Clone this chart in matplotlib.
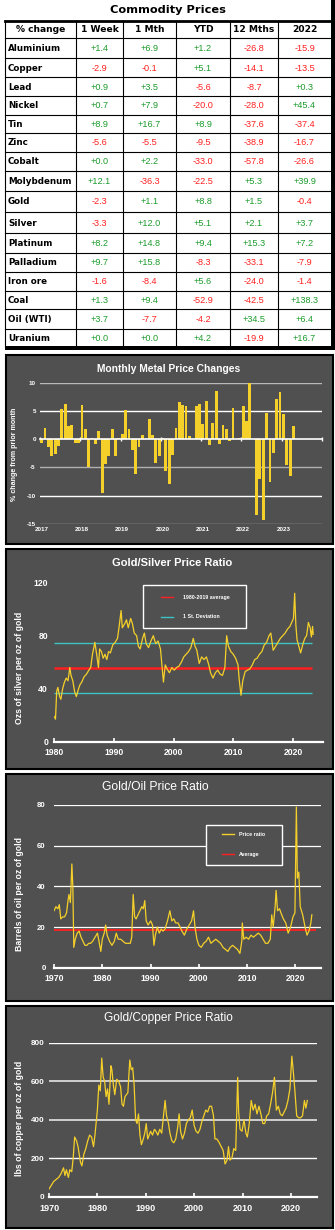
import numpy as np
import matplotlib.pyplot as plt
from matplotlib.patches import Rectangle

plt.rcParams['font.family'] = ['Liberation Sans', 'DejaVu Sans']

W, H = 335, 1230

# ---- commodity table ----
metals = ["Aluminium", "Copper", "Lead", "Nickel", "Tin", "Zinc", "Cobalt",
          "Molybdenum", "Gold", "Silver", "Platinum", "Palladium", "Iron ore",
          "Coal", "Oil (WTI)", "Uranium"]
headers = ["% change", "1 Week", "1 Mth", "YTD", "12 Mths", "2022"]
chg_week = [1.4, -2.9, 0.9, 0.7, 8.9, -5.6, 0.0, 12.1, -2.3, -3.3, 8.2, 9.7, -1.6, 1.3, 3.7, 0.0]
chg_month = [6.9, -0.1, 3.5, 7.9, 16.7, -5.5, 2.2, -36.3, 1.1, 12.0, 14.8, 15.8, -8.4, 9.4, -7.7, 0.0]
chg_ytd = [1.2, 5.1, -5.6, -20.0, 8.9, -9.5, -33.0, -22.5, 8.8, 5.1, 9.4, -8.3, 5.6, -52.9, -4.2, 4.2]
chg_12m = [-26.8, -14.1, -8.7, -28.0, -37.6, -38.9, -57.8, 5.3, 1.5, 2.1, 15.3, -33.1, -24.0, -42.5, 34.5, -19.9]
chg_2022 = [-15.9, -13.5, 0.3, 45.4, -37.4, -16.7, -26.6, 39.9, -0.4, 3.7, 7.2, -7.9, -1.4, 138.3, 6.4, 16.7]

# ---- monthly metal price changes, Jan 2017 onwards (%) ----
month_start = 2017
monthly_chg = [-0.6, 2.0, -1.4, -3.0, -2.6, -1.2, 5.3, 6.2, 2.3, 2.6, -0.7, -0.7,
               6.1, 1.8, -5.0, 0.3, -0.8, 1.5, -9.6, -4.3, -3.0, 1.8, -3.0, 0.2,
               1.0, 5.1, 1.8, -1.9, -6.2, -1.3, 0.7, 0.1, 3.5, 0.8, -4.2, -3.0,
               0.2, -5.7, -8.0, -2.8, 2.0, 6.5, 6.1, 5.8, 0.6, 0.0, 5.8, 6.3,
               2.7, 6.7, -1.1, 2.9, 8.6, -0.9, 2.5, 1.8, -0.3, 5.6, 0.1, 0.2,
               5.9, 3.3, 10.0, 0.1, -13.4, -7.0, -14.3, 4.7, -7.6, -2.4, 7.1, 8.4,
               4.5, -4.5, -6.5, 2.4]

# ---- gold/silver ratio ----
silver_yr = [1980.0, 1980.2, 1980.4, 1980.6, 1980.9, 1981.1, 1981.4, 1981.7, 1982.0, 1982.3,
             1982.6, 1982.8, 1983.1, 1983.4, 1983.7, 1984.0, 1984.3, 1984.6, 1985.0, 1985.4,
             1985.8, 1986.1, 1986.4, 1986.8, 1987.1, 1987.4, 1987.6, 1987.9, 1988.2, 1988.5,
             1988.8, 1989.1, 1989.4, 1989.8, 1990.2, 1990.6, 1990.9, 1991.2, 1991.4, 1991.8,
             1992.1, 1992.4, 1992.8, 1993.1, 1993.4, 1993.8, 1994.1, 1994.4, 1994.8, 1995.1,
             1995.4, 1995.8, 1996.2, 1996.6, 1997.0, 1997.4, 1997.8, 1998.0, 1998.3, 1998.6,
             1998.9, 1999.3, 1999.7, 2000.1, 2000.5, 2000.9, 2001.3, 2001.7, 2002.1, 2002.5,
             2002.9, 2003.3, 2003.6, 2003.9, 2004.3, 2004.7, 2005.1, 2005.5, 2005.9, 2006.2,
             2006.6, 2007.0, 2007.4, 2007.8, 2008.2, 2008.6, 2008.9, 2009.2, 2009.6, 2010.0,
             2010.4, 2010.8, 2011.0, 2011.3, 2011.6, 2012.0, 2012.4, 2012.8, 2013.2, 2013.6,
             2014.0, 2014.4, 2014.8, 2015.2, 2015.6, 2016.0, 2016.3, 2016.7, 2017.1, 2017.5,
             2017.9, 2018.3, 2018.7, 2019.1, 2019.5, 2019.8, 2020.1, 2020.3, 2020.5, 2020.7,
             2021.0, 2021.3, 2021.7, 2022.0, 2022.3, 2022.6, 2022.9, 2023.1, 2023.3, 2023.4]
silver_ratio = [19, 17, 38, 41, 34, 32, 40, 45, 48, 46,
                56, 50, 46, 38, 34, 39, 43, 45, 49, 51,
                54, 56, 66, 75, 66, 56, 70, 68, 63, 66,
                62, 68, 67, 73, 75, 78, 88, 99, 86, 89,
                92, 86, 93, 89, 82, 80, 72, 70, 78, 82,
                74, 71, 76, 80, 74, 76, 70, 60, 45, 58,
                55, 52, 56, 54, 56, 57, 60, 64, 66, 68,
                71, 78, 72, 69, 59, 64, 62, 64, 58, 52,
                48, 52, 54, 51, 50, 56, 80, 72, 68, 66,
                63, 58, 47, 35, 46, 53, 54, 55, 58, 62,
                63, 66, 68, 73, 75, 80, 82, 69, 72, 75,
                78, 80, 82, 85, 87, 90, 93, 112, 88, 77,
                72, 67, 74, 78, 80, 90, 86, 79, 87, 81]
silver_avg = 55.8
silver_sd = 18.8

# ---- gold/oil ratio ----
oil_yr = [1970.0, 1970.4, 1970.8, 1971.1, 1971.4, 1971.8, 1972.2, 1972.6, 1972.9, 1973.1,
          1973.4, 1973.7, 1973.9, 1974.1, 1974.4, 1974.8, 1975.2, 1975.6, 1976.0, 1976.4,
          1976.8, 1977.2, 1977.6, 1978.0, 1978.5, 1979.0, 1979.4, 1979.7, 1980.0, 1980.4,
          1980.7, 1981.0, 1981.5, 1982.0, 1982.5, 1982.9, 1983.3, 1983.8, 1984.3, 1984.8,
          1985.3, 1985.8, 1986.1, 1986.4, 1986.7, 1987.0, 1987.4, 1987.8, 1988.2, 1988.5,
          1988.8, 1989.1, 1989.5, 1990.0, 1990.4, 1990.7, 1991.0, 1991.4, 1991.8, 1992.2,
          1992.6, 1993.0, 1993.5, 1994.0, 1994.4, 1994.8, 1995.2, 1995.7, 1996.1, 1996.5,
          1997.0, 1997.5, 1998.0, 1998.5, 1998.9, 1999.2, 1999.6, 2000.0, 2000.5, 2001.0,
          2001.5, 2002.0, 2002.5, 2003.0, 2003.5, 2004.0, 2004.5, 2005.0, 2005.5, 2006.0,
          2006.5, 2007.0, 2007.5, 2008.0, 2008.5, 2008.9, 2009.0, 2009.3, 2009.8, 2010.3,
          2010.8, 2011.3, 2011.8, 2012.3, 2012.8, 2013.3, 2013.8, 2014.3, 2014.8, 2015.1,
          2015.4, 2015.8, 2016.0, 2016.3, 2016.7, 2017.0, 2017.5, 2018.0, 2018.5, 2019.0,
          2019.5, 2019.9, 2020.2, 2020.4, 2020.7, 2021.0, 2021.5, 2022.0, 2022.4, 2022.8,
          2023.2, 2023.4]
oil_ratio = [28, 30, 29, 31, 24, 25, 25, 27, 33, 36,
             32, 51, 40, 10, 14, 17, 18, 15, 13, 11,
             11, 12, 12, 13, 15, 17, 12, 8, 14, 17,
             21, 16, 13, 11, 13, 17, 14, 14, 13, 12,
             12, 12, 15, 36, 25, 24, 26, 28, 30, 29,
             33, 23, 21, 23, 21, 11, 16, 20, 17, 19,
             18, 19, 23, 28, 23, 24, 22, 22, 20, 18,
             16, 19, 21, 23, 28, 20, 14, 11, 10, 12,
             13, 15, 12, 13, 14, 13, 12, 10, 9, 8,
             10, 11, 10, 9, 7, 13, 22, 14, 15, 14,
             16, 15, 16, 17, 16, 14, 12, 12, 14, 26,
             20, 30, 38, 28, 29, 27, 24, 22, 17, 20,
             25, 27, 79, 44, 47, 30, 26, 20, 16, 18,
             22, 26]
oil_avg = 18.6

# ---- gold/copper ratio ----
copper_yr = [1970.0, 1970.5, 1971.0, 1971.5, 1972.0, 1972.5, 1973.0, 1973.3, 1973.6, 1974.0,
             1974.3, 1974.7, 1975.0, 1975.3, 1975.7, 1976.0, 1976.5, 1976.8, 1977.2, 1977.6,
             1978.0, 1978.4, 1978.8, 1979.2, 1979.5, 1980.0, 1980.3, 1980.6, 1980.9, 1981.2,
             1981.5, 1981.8, 1982.1, 1982.4, 1982.8, 1983.0, 1983.3, 1983.6, 1984.0, 1984.4,
             1984.8, 1985.1, 1985.4, 1985.7, 1986.0, 1986.3, 1986.7, 1987.0, 1987.3, 1987.6,
             1987.9, 1988.2, 1988.5, 1988.8, 1989.1, 1989.5, 1989.8, 1990.1, 1990.4, 1990.7,
             1991.0, 1991.4, 1991.8, 1992.1, 1992.5, 1992.9, 1993.3, 1993.7, 1994.0, 1994.3,
             1994.7, 1995.0, 1995.4, 1995.8, 1996.2, 1996.6, 1996.9, 1997.2, 1997.6, 1998.0,
             1998.4, 1998.8, 1999.2, 1999.6, 2000.0, 2000.4, 2000.8, 2001.2, 2001.6, 2002.0,
             2002.4, 2002.8, 2003.2, 2003.6, 2004.0, 2004.3, 2004.7, 2005.2, 2005.6, 2006.0,
             2006.4, 2006.8, 2007.1, 2007.4, 2007.8, 2008.2, 2008.6, 2009.0, 2009.2, 2009.5,
             2009.9, 2010.3, 2010.7, 2011.0, 2011.4, 2011.8, 2012.2, 2012.6, 2013.0, 2013.4,
             2013.8, 2014.2, 2014.6, 2015.0, 2015.4, 2015.8, 2016.2, 2016.6, 2017.0, 2017.4,
             2017.8, 2018.2, 2018.6, 2019.0, 2019.4, 2019.8, 2020.2, 2020.5, 2020.8, 2021.2,
             2021.6, 2022.0, 2022.4, 2022.8, 2023.1, 2023.4]
copper_ratio = [40, 60, 80, 90, 100, 120, 150, 110, 140, 100,
                140, 130, 200, 310, 290, 260, 180, 160, 220, 250,
                290, 320, 310, 260, 320, 450, 580, 550, 720, 620,
                600, 520, 560, 480, 680, 660, 580, 530, 610, 600,
                570, 480, 470, 520, 530, 540, 710, 660, 670, 580,
                400, 380, 430, 320, 270, 300, 330, 380, 300, 320,
                340, 320, 350, 340, 320, 350, 330, 430, 500, 420,
                380, 330, 290, 280, 300, 360, 430, 340, 300, 330,
                380, 400, 410, 450, 370, 340, 330, 350, 390, 420,
                450, 440, 470, 470, 420, 300, 300, 280, 260, 240,
                170, 190, 260, 190, 200, 250, 240, 620, 440, 350,
                340, 400, 330, 310, 380, 500, 450, 480, 430, 470,
                430, 380, 380, 420, 430, 480, 540, 620, 450, 470,
                430, 420, 440, 460, 500, 560, 730, 650, 560, 420,
                410, 410, 420, 500, 460, 500]

PANEL = '#505050'
GOLD = '#f5d02a'
GREEN = '#1c9c2c'
RED = '#ff2020'
CYAN = '#3cc4c4'


def px_rect(x0, y0, x1, y1):
    return [x0 / W, 1 - y1 / H, (x1 - x0) / W, (y1 - y0) / H]


fig = plt.figure(figsize=(W / 100, H / 100), dpi=100)
bg = fig.add_axes([0, 0, 1, 1])
bg.set_xlim(0, W)
bg.set_ylim(H, 0)
bg.axis('off')

# table
tfont = dict(family='DejaVu Sans', fontweight='bold', color='black')
bg.text(168, 10, "Commodity Prices", ha='center', va='center', fontsize=8.2, **tfont)
col_edges = [5, 76, 123, 176, 230, 278, 331]
row_edges = [20.7, 38.3, 58.3, 77.3, 96, 115, 132.7, 151.7, 170.7, 190.7, 211.7,
             233.3, 253.3, 271.5, 290.7, 309.3, 328.7, 347]
bg.plot([5, 333], [row_edges[0], row_edges[0]], color='black', lw=2)
for y in row_edges[1:-1]:
    bg.plot([5, 331], [y, y], color='black', lw=0.8)
for x in col_edges[:-1]:
    bg.plot([x, x], [row_edges[0], 347], color='black', lw=0.8)
bg.add_patch(Rectangle((331, 0), 4, 350, color='black', lw=0))
bg.add_patch(Rectangle((5, 346), 330, 4, color='black', lw=0))

for j, h in enumerate(headers):
    cx = (col_edges[j] + col_edges[j + 1]) / 2
    bg.text(cx, (row_edges[0] + row_edges[1]) / 2 + 0.5, h, ha='center', va='center',
            fontsize=6.6, **tfont)
columns = [chg_week, chg_month, chg_ytd, chg_12m, chg_2022]
for i, name in enumerate(metals):
    cy = (row_edges[i + 1] + row_edges[i + 2]) / 2 + 0.5
    bg.text(8, cy, name, ha='left', va='center', fontsize=6.3, **tfont)
    for j, col in enumerate(columns):
        v = col[i]
        cx = (col_edges[j + 1] + col_edges[j + 2]) / 2
        bg.text(cx, cy, f"{v:+.1f}", ha='center', va='center', fontsize=6.6,
                color=GREEN if v >= 0 else RED)

# chart panels
for (y0, y1) in [(355, 544), (549, 769), (774, 1001), (1006, 1228)]:
    bg.add_patch(Rectangle((5.5, y0), 327.5, y1 - y0, facecolor=PANEL,
                           edgecolor='black', lw=1.5))

tick_font = dict(color='white', fontweight='bold')

# monthly bars
ax1 = fig.add_axes(px_rect(40, 382.7, 322, 524))
ax1.set_facecolor('none')
n_slots = 84
ax1.set_xlim(-0.5, n_slots - 0.5)
ax1.set_ylim(-15, 10)
for v, c in [(10, '#b8b8b8'), (5, 'white'), (-5, '#b0b0b0'), (-10, 'white'), (-15, '#b0b0b0')]:
    ax1.axhline(v, color=c, lw=1, zorder=1)
ax1.bar(np.arange(len(monthly_chg)), monthly_chg, width=0.85, color=GOLD, zorder=2)
for s in ['left', 'right', 'top']:
    ax1.spines[s].set_visible(False)
ax1.spines['bottom'].set_position(('data', 0))
ax1.spines['bottom'].set_color('white')
ax1.spines['bottom'].set_linewidth(1.2)
ax1.spines['bottom'].set_zorder(3)
ax1.set_xticks(np.arange(-0.5, n_slots, 12))
ax1.set_xticklabels([])
ax1.tick_params(axis='x', direction='inout', length=3, color='white', width=1)
ax1.set_yticks([-15, -10, -5, 0, 5, 10])
ax1.set_yticklabels(['-15', '-10', '-5', '0', '5', '10'], fontsize=4.5, **tick_font)
ax1.tick_params(axis='y', length=0, pad=3)
for k in range(7):
    ax1.annotate(str(month_start + k), (12 * k, 0), xycoords=('data', 'axes fraction'),
                 xytext=(0, -2), textcoords='offset points', ha='center', va='top',
                 fontsize=4.5, **tick_font)


def line_axes(rect, xlim, ylim, yticks, ypad, xpad, ysize, xsize):
    ax = fig.add_axes(rect)
    ax.set_facecolor('none')
    ax.set_xlim(*xlim)
    ax.set_ylim(*ylim)
    for s in ['left', 'right', 'top']:
        ax.spines[s].set_visible(False)
    ax.spines['bottom'].set_color('white')
    ax.spines['bottom'].set_linewidth(1.6)
    ax.spines['bottom'].set_zorder(4)
    ax.set_yticks(yticks)
    ax.set_yticklabels([str(t) for t in yticks], fontsize=ysize, **tick_font)
    ax.tick_params(axis='y', length=0, pad=ypad)
    ax.tick_params(axis='x', direction='in', length=3, width=1.2, color='white',
                   pad=xpad, labelsize=xsize, labelcolor='white')
    return ax


# gold/silver
ax2 = line_axes(px_rect(54.3, 582.7, 322.7, 741.7), (1980, 2025), (0, 120),
                [0, 40, 80, 120], 4.5, 4.5, 6.2, 6.2)
ax2.set_xticks([1980, 1990, 2000, 2010, 2020])
ax2.set_xticklabels(['1980', '1990', '2000', '2010', '2020'], fontweight='bold')
ax2.hlines([silver_avg + silver_sd, silver_avg - silver_sd], 1980, 2023.2, color=CYAN, lw=1, zorder=2)
ax2.hlines(silver_avg, 1980, 2023.2, color=RED, lw=1.8, zorder=2)
ax2.plot(silver_yr, silver_ratio, color=GOLD, lw=0.9, zorder=3)

# gold/oil
ax3 = line_axes(px_rect(54, 805, 321, 967.7), (1970, 2025.3), (0, 80),
                [0, 20, 40, 60, 80], 6, 4.5, 5.6, 6.3)
ax3.set_xticks([1970, 1980, 1990, 2000, 2010, 2020])
ax3.set_xticklabels(['1970', '1980', '1990', '2000', '2010', '2020'], fontweight='bold')
for v in [20, 40, 60, 80]:
    ax3.axhline(v, color='white', lw=0.9, zorder=1)
ax3.hlines(oil_avg, 1970, 2024.2, color=RED, lw=1.3, zorder=2)
ax3.plot(oil_yr, oil_ratio, color=GOLD, lw=0.9, zorder=3)

# gold/copper
ax4 = line_axes(px_rect(49, 1042.7, 317, 1196.7), (1970, 2025.4), (0, 800),
                [0, 200, 400, 600, 800], 3.5, 5, 5.8, 6.5)
ax4.set_xticks([1970, 1980, 1990, 2000, 2010, 2020])
ax4.set_xticklabels(['1970', '1980', '1990', '2000', '2010', '2020'], fontweight='bold')
for v, c, w in [(200, 'white', 1), (400, '#cfcfcf', 1.4), (600, '#cfcfcf', 1.4), (800, 'white', 1)]:
    ax4.axhline(v, color=c, lw=w, zorder=1)
ax4.plot(copper_yr, copper_ratio, color=GOLD, lw=0.9, zorder=3)

# titles, axis captions and legends on top
top = fig.add_axes([0, 0, 1, 1])
top.set_xlim(0, W)
top.set_ylim(H, 0)
top.axis('off')
top.set_facecolor('none')

wt = dict(color='white', ha='center', va='center')
top.text(169, 369, "Monthly Metal Price Changes", fontsize=7.4, fontweight='bold', **wt)
top.text(172, 563, "Gold/Silver Price Ratio", fontsize=8, fontweight='bold', **wt)
top.text(155.5, 787, "Gold/Oil Price Ratio", fontsize=8.7, **wt)
top.text(168, 1018, "Gold/Copper Price Ratio", fontsize=8.6, **wt)

top.text(15, 454, "% change from prior month", rotation=90, fontsize=5.1, fontweight='bold', **wt)
top.text(20, 668, "Ozs of silver per oz of gold", rotation=90, fontsize=6.3, fontweight='bold', **wt)
top.text(20, 894, "Barrels of oil per oz of gold", rotation=90, fontsize=6.3, fontweight='bold', **wt)
top.text(20, 1118, "lbs of copper per oz of gold", rotation=90, fontsize=6.3, fontweight='bold', **wt)

# legend boxes
top.add_patch(Rectangle((142.7, 585), 103.3, 43, facecolor=PANEL, edgecolor='white', lw=1))
for ly, color, label in [(597, RED, "1980-2019 average"), (617, CYAN, "1 St. Deviation")]:
    top.plot([160.7, 173], [ly, ly], color=color, lw=1)
    top.text(183.3, ly, label, color='white', fontsize=3.8, fontweight='bold', va='center')

top.add_patch(Rectangle((206, 825), 75.7, 40, facecolor=PANEL, edgecolor='white', lw=1))
for ly, color, label in [(834.3, GOLD, "Price ratio"), (854.3, RED, "Average")]:
    top.plot([221.7, 234], [ly, ly], color=color, lw=1)
    top.text(239.3, ly, label, color='white', fontsize=3.8, fontweight='bold', va='center')

fig.savefig('out.png', dpi=100)
